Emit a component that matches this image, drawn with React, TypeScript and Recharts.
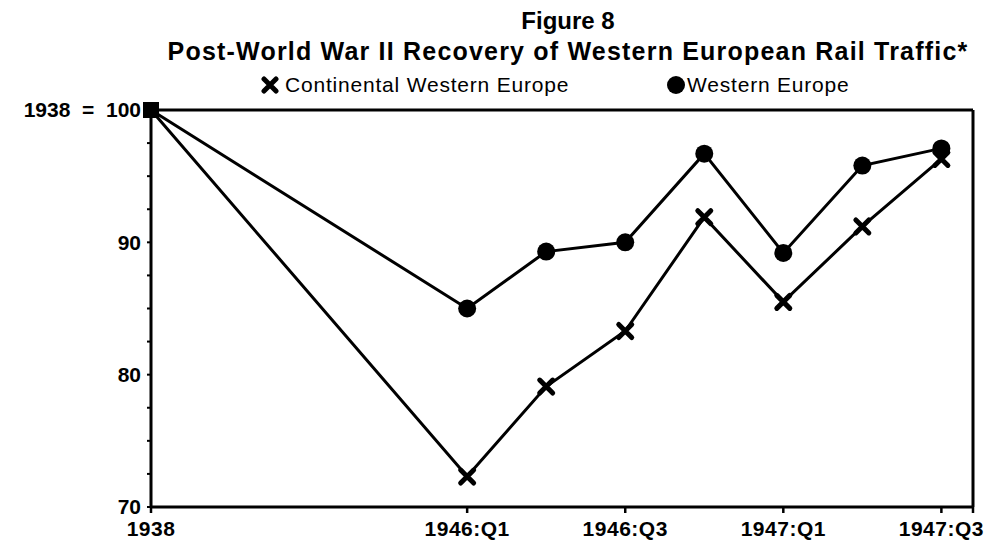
import React from 'react';
import { LineChart, Line, XAxis, YAxis, Legend } from 'recharts';

// quarter index: 1938 = 0, 1946:Q1 = 4 ... 1947:Q3 = 10
const periods = ['1938', '1946:Q1', '1946:Q2', '1946:Q3', '1946:Q4', '1947:Q1', '1947:Q2', '1947:Q3'];
const quarterIndex = [0, 4, 5, 6, 7, 8, 9, 10];
const continental = [100, 72.3, 79.1, 83.3, 91.9, 85.5, 91.2, 96.3];
const western = [100, 85.0, 89.3, 90.0, 96.7, 89.2, 95.8, 97.1];

const xTicks = [0, 4, 6, 8, 10, 10.4];
const topTicks = [0, 0.4, 0.8, 1.2, 1.6, 2, 2.4, 2.8, 3.2, 3.6, 4, 4.4, 4.8, 5.2, 5.6, 6, 6.4, 6.8, 7.2, 7.6, 8, 8.4, 8.8, 9.2, 9.6, 10, 10.4];
const yTicks = [70, 72.5, 75, 77.5, 80, 82.5, 85, 87.5, 90, 92.5, 95, 97.5, 100];

const data = periods.map((p, i) => ({
  period: p,
  q: quarterIndex[i],
  continental: continental[i],
  western: western[i],
}));

const FONT = '"Liberation Sans", Arial, sans-serif';

const xLabel = (v: number) => {
  const i = quarterIndex.indexOf(v);
  return i >= 0 ? periods[i] : '';
};

const yLabel = (v: number) => {
  if (v === 100) return '1938\u00a0\u00a0=\u00a0\u00a0100';
  return v % 10 === 0 ? String(v) : '';
};

const CrossDot = (props: any) => {
  const { cx, cy, index } = props;
  if (index === 0) {
    return <rect key={`c-${index}`} x={cx - 8} y={cy - 8} width={16} height={16} fill="#000" />;
  }
  const s = 6.5;
  return (
    <path
      key={`c-${index}`}
      d={`M${cx - s},${cy - s}L${cx + s},${cy + s}M${cx + s},${cy - s}L${cx - s},${cy + s}`}
      stroke="#000"
      strokeWidth={5}
      strokeLinecap="round"
    />
  );
};

const CircleDot = (props: any) => {
  const { cx, cy, index } = props;
  if (index === 0) {
    return <rect key={`w-${index}`} x={cx - 8} y={cy - 8} width={16} height={16} fill="#000" />;
  }
  return <circle key={`w-${index}`} cx={cx} cy={cy} r={9} fill="#000" />;
};

const renderLegend = () => (
  <div
    style={{
      display: 'flex',
      fontFamily: FONT,
      fontSize: 21,
      letterSpacing: 0.8,
      color: '#000',
      paddingLeft: 261,
    }}
  >
    <div style={{ display: 'flex', alignItems: 'center', width: 405 }}>
      <svg width={24} height={18}>
        <path d="M3,3L15,15M15,3L3,15" stroke="#000" strokeWidth={5} strokeLinecap="round" />
      </svg>
      <span>Continental Western Europe</span>
    </div>
    <div style={{ display: 'flex', alignItems: 'center' }}>
      <svg width={21} height={20}>
        <circle cx={10} cy={10} r={9} fill="#000" />
      </svg>
      <span>Western Europe</span>
    </div>
  </div>
);

export default function App() {
  const tickStyle = { fill: '#000', fontSize: 21, fontWeight: 'bold' as const, fontFamily: FONT };
  return (
    <div style={{ position: 'absolute', left: 0, top: 0, width: 994, height: 542, background: '#fff' }}>
      <div
        style={{
          position: 'absolute',
          left: 136,
          width: 864,
          top: 6,
          textAlign: 'center',
          fontFamily: FONT,
          fontWeight: 'bold',
          color: '#000',
        }}
      >
        <div style={{ fontSize: 24, lineHeight: '30px' }}>Figure 8</div>
        <div style={{ fontSize: 25, lineHeight: '30px', letterSpacing: 1.2 }}>
          Post-World War II Recovery of Western European Rail Traffic*
        </div>
      </div>
      <LineChart width={994} height={542} data={data} margin={{ top: 100, right: 0, bottom: 0, left: 0 }}>
        <XAxis
          dataKey="q"
          type="number"
          domain={[0, 10.4]}
          ticks={xTicks}
          interval={0}
          tickFormatter={xLabel}
          height={35}
          tick={{ ...tickStyle, letterSpacing: 0.5 }}
          axisLine={{ stroke: '#000', strokeWidth: 3 }}
          tickLine={{ stroke: '#000', strokeWidth: 2.5 }}
          tickSize={6}
          tickMargin={8}
        />
        <XAxis
          xAxisId="top"
          orientation="top"
          type="number"
          domain={[0, 10.4]}
          ticks={topTicks}
          interval={0}
          height={10}
          tick={false}
          axisLine={{ stroke: '#000', strokeWidth: 3 }}
          tickLine={{ stroke: '#000', strokeWidth: 2 }}
          tickSize={4}
        />
        <YAxis
          type="number"
          domain={[70, 100]}
          ticks={yTicks}
          interval={0}
          tickFormatter={yLabel}
          width={151}
          tick={tickStyle}
          axisLine={{ stroke: '#000', strokeWidth: 3 }}
          tickLine={{ stroke: '#000', strokeWidth: 2 }}
          tickSize={4}
          tickMargin={6}
        />
        <YAxis
          yAxisId="right"
          orientation="right"
          type="number"
          domain={[70, 100]}
          ticks={yTicks}
          interval={0}
          width={21}
          tick={false}
          axisLine={{ stroke: '#000', strokeWidth: 3 }}
          tickLine={{ stroke: '#000', strokeWidth: 2 }}
          tickSize={4}
        />
        <Legend
          layout="horizontal"
          verticalAlign="middle"
          align="center"
          content={renderLegend}
          wrapperStyle={{ top: 73, left: 0, width: 994 }}
        />
        <Line
          type="linear"
          dataKey="continental"
          name="Continental Western Europe"
          stroke="#000"
          strokeWidth={3}
          dot={CrossDot}
          isAnimationActive={false}
        />
        <Line
          type="linear"
          dataKey="western"
          name="Western Europe"
          stroke="#000"
          strokeWidth={3}
          dot={CircleDot}
          isAnimationActive={false}
        />
      </LineChart>
    </div>
  );
}
